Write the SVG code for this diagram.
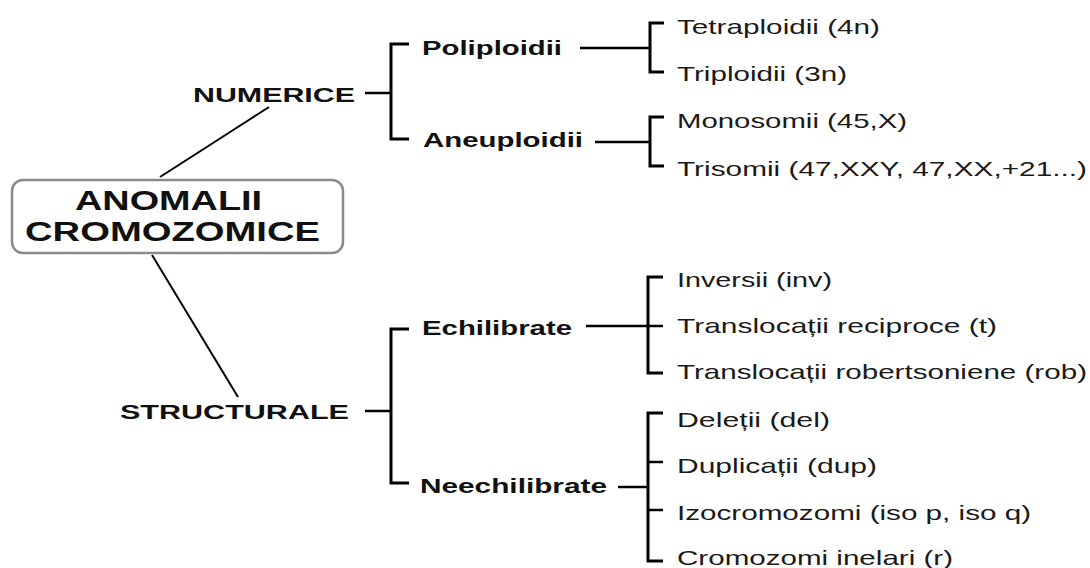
<svg xmlns="http://www.w3.org/2000/svg" width="1090" height="568" viewBox="0 0 1090 568">
<style>
.t{font-family:"Liberation Sans",Arial,sans-serif;fill:#111;}
.leaf{font-size:21px;font-weight:normal;fill:#1a1a1a;}
.sub{font-size:20px;font-weight:bold;}
.main{font-size:21px;font-weight:bold;}
.root{font-size:27px;font-weight:bold;}
.br{fill:none;stroke:#000;stroke-width:3;stroke-linecap:butt;stroke-linejoin:miter;}
.ln{fill:none;stroke:#000;stroke-width:2.5;}
.dg{fill:none;stroke:#000;stroke-width:2;}
</style>
<rect width="1090" height="568" fill="#fff"/>
<g id="connectors">
<line class="dg" x1="160" y1="177" x2="269" y2="107"/>
<line class="dg" x1="152" y1="255" x2="238" y2="397"/>
<line class="ln" x1="365" y1="93" x2="391" y2="93"/>
<path class="br" d="M409,44 H391 V139 H409"/>
<line class="ln" x1="365" y1="411" x2="391" y2="411"/>
<path class="br" d="M409,329 H391 V483 H409"/>
<line class="ln" x1="580" y1="48" x2="650" y2="48"/>
<path class="br" d="M664,23 H650 V72 H664"/>
<line class="ln" x1="595" y1="142" x2="650" y2="142"/>
<path class="br" d="M664,117 H650 V166 H664"/>
<line class="ln" x1="586" y1="326" x2="663" y2="326"/>
<path class="br" d="M663,277 H648 V373 H663"/>
<line class="ln" x1="618" y1="487" x2="648" y2="487"/>
<path class="br" d="M663,413 H648 V561 H663"/>
<line class="ln" x1="648" y1="462" x2="663" y2="462"/>
<line class="ln" x1="648" y1="510" x2="663" y2="510"/>
</g>
<g id="root">
<rect x="12" y="180" width="331" height="73" rx="11" ry="11" fill="#fff" stroke="#8a8a8a" stroke-width="2.5"/>
<text class="t root" x="75" y="210" textLength="187" lengthAdjust="spacingAndGlyphs">ANOMALII</text>
<text class="t root" x="25" y="241" textLength="295" lengthAdjust="spacingAndGlyphs">CROMOZOMICE</text>
</g>
<g id="numerice"><text class="t main" x="193" y="102" textLength="162" lengthAdjust="spacingAndGlyphs">NUMERICE</text></g>
<g id="structurale"><text class="t main" x="120" y="419" textLength="229" lengthAdjust="spacingAndGlyphs">STRUCTURALE</text></g>
<g id="poliploidii"><text class="t sub" x="422" y="55" textLength="140" lengthAdjust="spacingAndGlyphs">Poliploidii</text></g>
<g id="aneuploidii"><text class="t sub" x="423" y="147" textLength="160" lengthAdjust="spacingAndGlyphs">Aneuploidii</text></g>
<g id="echilibrate"><text class="t sub" x="422" y="335" textLength="150" lengthAdjust="spacingAndGlyphs">Echilibrate</text></g>
<g id="neechilibrate"><text class="t sub" x="420" y="493" textLength="187" lengthAdjust="spacingAndGlyphs">Neechilibrate</text></g>
<g id="tetraploidii"><text class="t leaf" x="677" y="34" textLength="203" lengthAdjust="spacingAndGlyphs">Tetraploidii (4n)</text></g>
<g id="triploidii"><text class="t leaf" x="677" y="81" textLength="170" lengthAdjust="spacingAndGlyphs">Triploidii (3n)</text></g>
<g id="monosomii"><text class="t leaf" x="677" y="128" textLength="230" lengthAdjust="spacingAndGlyphs">Monosomii (45,X)</text></g>
<g id="trisomii"><text class="t leaf" x="677" y="176" textLength="410" lengthAdjust="spacingAndGlyphs">Trisomii (47,XXY, 47,XX,+21...)</text></g>
<g id="inversii"><text class="t leaf" x="677" y="287" textLength="155" lengthAdjust="spacingAndGlyphs">Inversii (inv)</text></g>
<g id="transreciproce"><text class="t leaf" x="677" y="333" textLength="320" lengthAdjust="spacingAndGlyphs">Translocații reciproce (t)</text></g>
<g id="transrobert"><text class="t leaf" x="677" y="379" textLength="410" lengthAdjust="spacingAndGlyphs">Translocații robertsoniene (rob)</text></g>
<g id="deletii"><text class="t leaf" x="677" y="427" textLength="153" lengthAdjust="spacingAndGlyphs">Deleții (del)</text></g>
<g id="duplicatii"><text class="t leaf" x="677" y="473" textLength="200" lengthAdjust="spacingAndGlyphs">Duplicații (dup)</text></g>
<g id="izocromozomi"><text class="t leaf" x="677" y="520" textLength="354" lengthAdjust="spacingAndGlyphs">Izocromozomi (iso p, iso q)</text></g>
<g id="inelari"><text class="t leaf" x="677" y="565" textLength="276" lengthAdjust="spacingAndGlyphs">Cromozomi inelari (r)</text></g>
</svg>
